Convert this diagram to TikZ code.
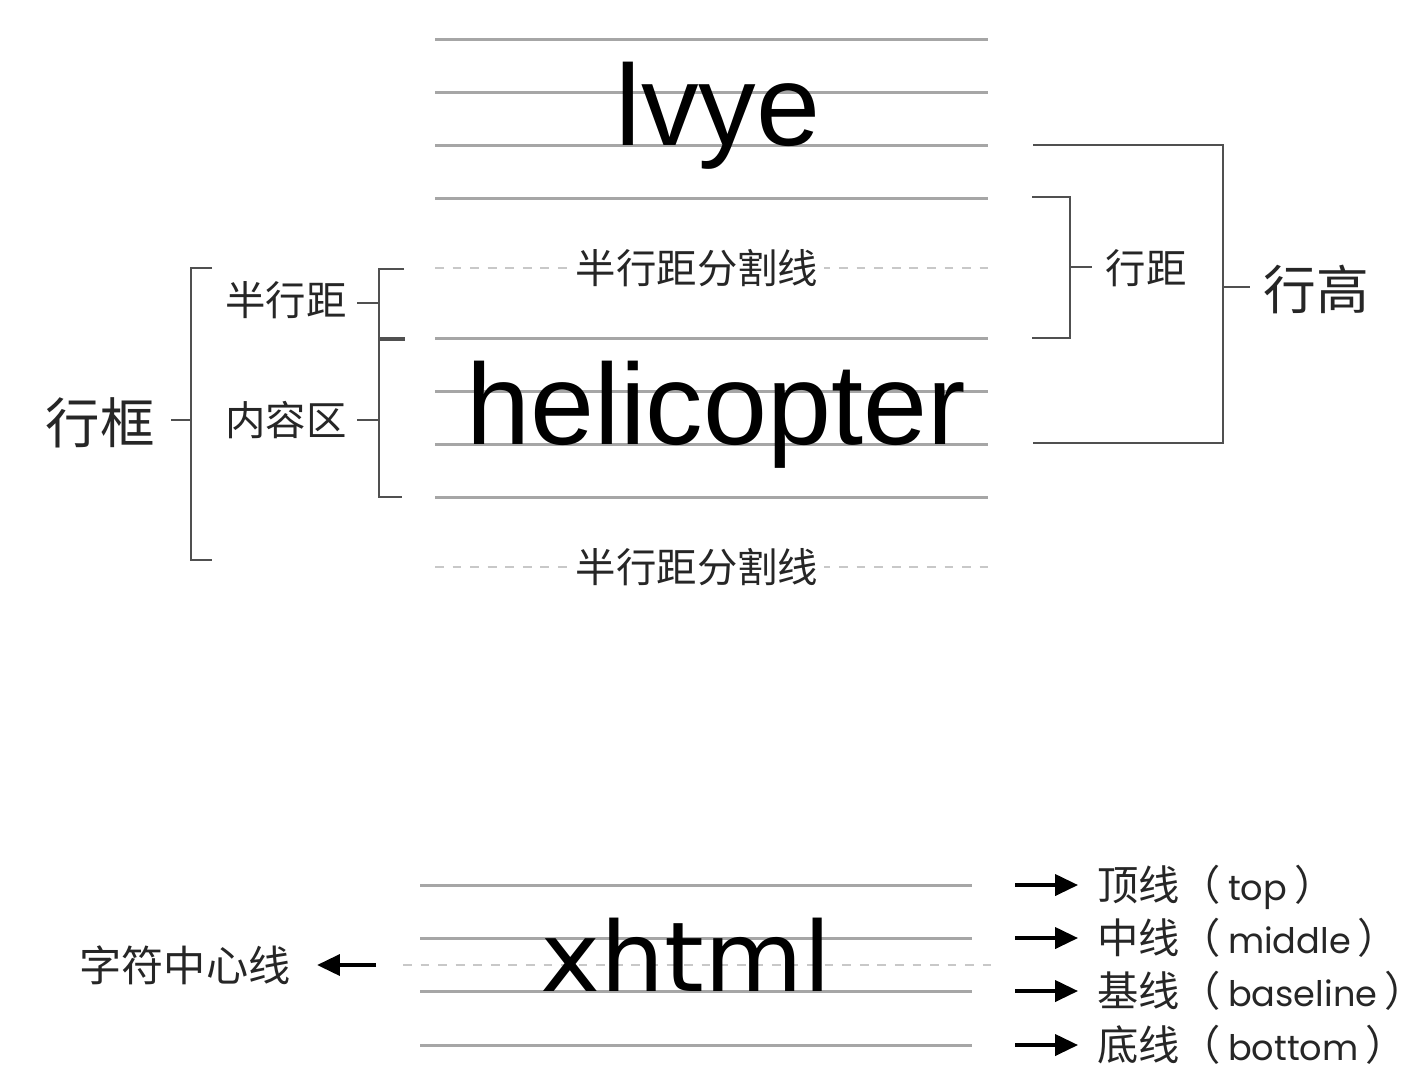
\documentclass[tikz,border=0pt]{standalone}
\usepackage{fontspec}
\setmainfont{Liberation Sans}
\newfontfamily\cjk{Noto Sans CJK SC}
\newfontfamily\dejavu{DejaVu Sans}
\newfontfamily\pop{Poppins}
\usetikzlibrary{arrows.meta}
\definecolor{guide}{HTML}{A6A6A6}
\definecolor{dashc}{HTML}{C8C8C8}
\definecolor{brk}{HTML}{505050}
\definecolor{lab}{HTML}{262626}
\newcommand{\lat}[1]{{\pop\fontsize{20}{20}\selectfont #1}}
\begin{document}
\begin{tikzpicture}[x=0.02cm,y=-0.02cm,
  guideline/.style={draw=guide,line width=1.7pt},
  halfline/.style={draw=dashc,line width=1.2pt,dash pattern=on 5pt off 5pt},
  bracket/.style={draw=brk,line width=1.6pt},
  cjklab/.style={font=\cjk\fontsize{23}{23}\selectfont,text=lab,inner sep=0pt},
  bigword/.style={font=\fontsize{65.5}{66}\selectfont,text=black,inner sep=0pt},
  rlab/.style={font=\cjk\fontsize{23.5}{24}\selectfont,text=lab,inner sep=0pt,anchor=base west},
  pointer/.style={draw=black,line width=1.9pt,-{Triangle[length=13pt,width=12pt]}},
]
\useasboundingbox[fill=white] (0,0) rectangle (1422,1080);

% ---- upper group: guide lines
\foreach \y in {39,92,145,198,338,391,444,497}
  \draw[guideline] (435,\y) -- (988,\y);
\draw[halfline] (435,268) -- (988,268);
\draw[halfline] (435,567) -- (988,567);
\node[cjklab,fill=white,inner xsep=3pt] (split1) at (697,268) {半行距分割线};
\node[cjklab,fill=white,inner xsep=3pt] (split2) at (697,567) {半行距分割线};

\node[bigword,anchor=base] (lvye) at (718,145) {lvye};
\node[bigword,anchor=base] (heli) at (716,444) {helicopter};

% ---- left brackets
\node[cjklab,font=\cjk\fontsize{31}{31}\selectfont] (hk) at (100,423) {行框};
\node[cjklab] (bhj) at (286,300) {半行距};
\node[cjklab] (nrq) at (286,420) {内容区};

\draw[bracket] (212,268) -- (191,268) -- (191,560) -- (212,560);
\draw[bracket] (171,420) -- (191,420);
\draw[bracket] (404,269) -- (379,269) -- (379,339);
\draw[bracket,line width=2.3pt] (378,339) -- (405,339);
\draw[bracket] (379,339) -- (379,497) -- (402,497);
\draw[bracket] (357,303) -- (379,303);
\draw[bracket] (357,420) -- (379,420);

% ---- right brackets
\draw[bracket] (1033,145) -- (1223,145) -- (1223,443) -- (1033,443);
\draw[bracket] (1223,287) -- (1250,287);
\node[cjklab,font=\cjk\fontsize{30}{30}\selectfont] (hg) at (1316,289) {行高};
\draw[bracket] (1032,197) -- (1070,197) -- (1070,338) -- (1032,338);
\draw[bracket] (1070,267) -- (1092,267);
\node[cjklab] (hj) at (1146,268) {行距};

% ---- lower group
\foreach \y in {885,938,991,1045}
  \draw[guideline] (420,\y) -- (972,\y);
\draw[halfline] (403,965) -- (991,965);
\node[font=\dejavu\fontsize{55}{55}\selectfont,anchor=base,inner sep=0pt] (xhtml) at (686,991) {\scalebox{1.05}[1]{xhtml}};

\node[cjklab,font=\cjk\fontsize{24}{24}\selectfont] (zf) at (185,965) {字符中心线};
\coordinate (ca) at (376,965);
\draw[pointer,shorten >=15pt] (ca) -- (zf.east);

\node[rlab] (ltop) at (1097,900) {顶线（\,\lat{top}\,）\kern-0.5em};
\node[rlab] (lmid) at (1097,953) {中线（\,\lat{middle}\,）\kern-0.5em};
\node[rlab] (lbase) at (1097,1006) {基线（\,\lat{baseline}\,）\kern-0.5em};
\node[rlab] (lbot) at (1097,1060) {底线（\,\lat{bottom}\,）\kern-0.5em};
\coordinate (a1) at (1015,885);
\coordinate (a2) at (1015,938);
\coordinate (a3) at (1015,991);
\coordinate (a4) at (1015,1045);
\draw[pointer] (a1) -- (1078,885);
\draw[pointer] (a2) -- (1078,938);
\draw[pointer] (a3) -- (1078,991);
\draw[pointer] (a4) -- (1078,1045);
\end{tikzpicture}
\end{document}
